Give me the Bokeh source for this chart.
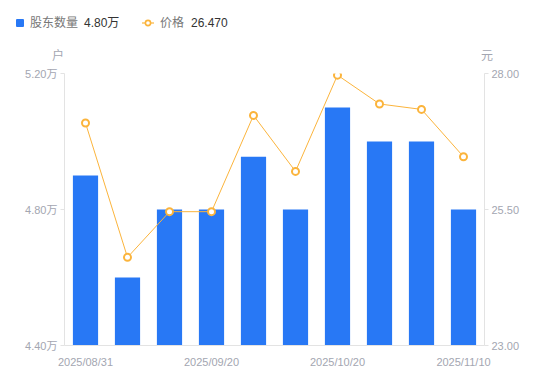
from bokeh.plotting import figure
from bokeh.layouts import column
from bokeh.models import Range1d, LinearAxis, FixedTicker, Div
from bokeh.embed import file_html
from bokeh.resources import INLINE

dates = ["2025/08/31", "2025/09/05", "2025/09/10", "2025/09/20", "2025/09/30",
         "2025/10/10", "2025/10/20", "2025/10/31", "2025/11/05", "2025/11/10"]
holders = [4.90, 4.60, 4.80, 4.80, 4.955, 4.80, 5.10, 5.00, 5.00, 4.80]  # 万户
prices = [27.09, 24.62, 25.46, 25.46, 27.23, 26.20, 27.97, 27.44, 27.34, 26.47]
shown_dates = ["2025/08/31", "2025/09/20", "2025/10/20", "2025/11/10"]
left_ticks = [4.40, 4.80, 5.20]
left_labels = ["4.40万", "4.80万", "5.20万"]
right_ticks = [23.0, 25.5, 28.0]
right_labels = ["23.00", "25.50", "28.00"]
legend_names = ["股东数量", "价格"]
legend_values = ["4.80万", "26.470"]
unit_left, unit_right = "户", "元"

FONT = "'Liberation Sans', Arial, 'Noto Sans CJK SC', sans-serif"
LBL = "#a3a6b1"
AXC = "#e3e3e3"
BLUE = "#2878f5"
ORANGE = "#fbb43c"

xs = list(range(len(dates)))

# ---------- header (legend + unit labels) as real HTML text ----------
HW, HH = 534, 65

def txt(s, left, top, color, size=12):
    return (f'<span style="position:absolute;left:{left}px;top:{top}px;'
            f'font-size:{size}px;line-height:14px;color:{color};white-space:nowrap;">{s}</span>')

line_icon = (f'<svg style="position:absolute;left:142px;top:18px;" width="12" height="10" '
             f'xmlns="http://www.w3.org/2000/svg">'
             f'<line x1="0" y1="5" x2="12" y2="5" stroke="{ORANGE}" stroke-width="1.2"/>'
             f'<circle cx="6" cy="5" r="2.6" fill="#ffffff" stroke="{ORANGE}" stroke-width="1.6"/>'
             f'</svg>')

html = (f'<div style="position:relative;width:{HW}px;height:{HH}px;font-family:{FONT};">'
        f'<span style="position:absolute;left:16px;top:19px;width:8px;height:8px;'
        f'background:{BLUE};border-radius:1px;"></span>'
        + txt(legend_names[0], 30, 16, "#777777")
        + txt(legend_values[0], 84, 16, "#333333")
        + line_icon
        + txt(legend_names[1], 160, 16, "#777777")
        + txt(legend_values[1], 191, 16, "#333333")
        + txt(unit_left, 52, 49, LBL)
        + txt(unit_right, 481, 49, LBL)
        + '</div>')
header = Div(text=html, width=HW, height=HH, margin=0)

# ---------- main chart ----------
p = figure(width=534, height=307, output_backend="svg", toolbar_location=None,
           x_range=Range1d(-0.5, len(dates) - 0.5),
           y_range=Range1d(left_ticks[0], left_ticks[-1]),
           min_border_left=64, min_border_right=50, min_border_top=8, min_border_bottom=27,
           y_axis_location=None, margin=0)
p.outline_line_color = None
p.xgrid.visible = False
p.ygrid.visible = False
p.extra_y_ranges = {"price": Range1d(right_ticks[0], right_ticks[-1])}

p.vbar(x=xs, top=holders, bottom=left_ticks[0], width=0.6, fill_color=BLUE, line_color=None)
p.line(x=xs, y=prices, y_range_name="price", line_color=ORANGE, line_width=1)
p.scatter(x=xs, y=prices, y_range_name="price", marker="circle", size=7,
          fill_color="white", line_color=ORANGE, line_width=2)

def style(ax):
    ax.axis_line_color = AXC
    ax.major_tick_line_color = AXC
    ax.minor_tick_line_color = None
    ax.major_label_text_color = LBL
    ax.major_label_text_font = FONT
    ax.major_label_text_font_size = "11px"

la = LinearAxis(ticker=FixedTicker(ticks=left_ticks),
                major_label_overrides={t: l for t, l in zip(left_ticks, left_labels)})
style(la)
la.major_tick_out = 4
la.major_tick_in = 0
la.major_label_standoff = 3
p.add_layout(la, "left")

ra = LinearAxis(y_range_name="price", ticker=FixedTicker(ticks=right_ticks),
                major_label_overrides={t: l for t, l in zip(right_ticks, right_labels)})
style(ra)
ra.major_tick_out = 4
ra.major_tick_in = 0
ra.major_label_standoff = 3
p.add_layout(ra, "right")

shown_idx = [dates.index(d) for d in shown_dates]
xa = p.xaxis[0]
style(xa)
xa.ticker = FixedTicker(ticks=shown_idx)
xa.major_label_overrides = {i: dates[i] for i in shown_idx}
xa.major_tick_line_color = None
xa.major_label_standoff = 4

layout = column(header, p, spacing=0)
open("out.html", "w").write(file_html(layout, INLINE))
